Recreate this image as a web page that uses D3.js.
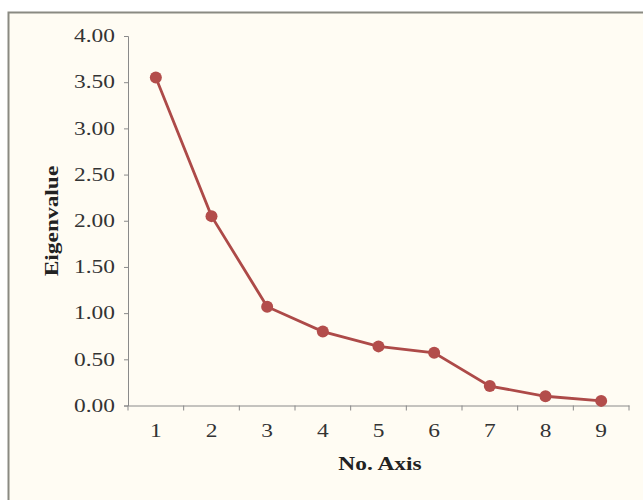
<!DOCTYPE html>
<html><head><meta charset="utf-8">
<script src="https://cdn.jsdelivr.net/npm/d3@7"></script>
<style>body{margin:0;background:#fff;}svg{display:block;}</style>
</head><body>
<svg id="c" width="643" height="500"></svg>
<script>
const categories = ["1","2","3","4","5","6","7","8","9"];
const eigenvalues = [3.55, 2.05, 1.07, 0.80, 0.64, 0.57, 0.21, 0.10, 0.05];
const yTicks = [0, 0.5, 1, 1.5, 2, 2.5, 3, 3.5, 4];

const svg = d3.select("#c");
svg.append("rect").attr("x",8.5).attr("y",12.5).attr("width",640).attr("height",495)
  .attr("fill","#fffcf3").attr("stroke","#8a8a82").attr("stroke-width",2);

const x = d3.scaleBand().domain(categories).range([128, 629]);
const y = d3.scaleLinear().domain([0,4]).range([405.5, 36]);

const font = "'Liberation Serif','Times New Roman',serif";
const STRETCH = 1.3;
function stretch(sel){
  sel.each(function(){
    const w = this.getComputedTextLength();
    d3.select(this).attr("textLength", w*STRETCH).attr("lengthAdjust","spacingAndGlyphs");
  });
}

const yAxis = svg.append("g").attr("transform","translate(128,0)")
  .call(d3.axisLeft(y).tickValues(yTicks).tickFormat(d3.format(".2f")).tickSize(4).tickPadding(9));
const xAxis = svg.append("g").attr("transform","translate(0,405.5)")
  .call(d3.axisBottom(x).tickSize(0).tickPadding(19));
xAxis.selectAll("line.bt").data(d3.range(categories.length+1)).enter().append("line")
  .attr("class","bt")
  .attr("x1",i=>128+i*x.step()).attr("x2",i=>128+i*x.step())
  .attr("y1",0).attr("y2",5).attr("stroke","#8a8a8a");

[yAxis,xAxis].forEach(g=>{
  g.select(".domain").attr("stroke","#8a8a8a");
  g.selectAll(".tick line").attr("stroke","#8a8a8a");
  g.selectAll("text").attr("font-family",font).attr("font-size",18).attr("fill","#333").call(stretch);
});

const line = d3.line().x((d,i)=>x(categories[i])+x.bandwidth()/2).y(d=>y(d));
svg.append("path").datum(eigenvalues).attr("d",line)
  .attr("fill","none").attr("stroke","#ad4a48").attr("stroke-width",2.8);
svg.selectAll("circle.pt").data(eigenvalues).enter().append("circle")
  .attr("class","pt")
  .attr("cx",(d,i)=>x(categories[i])+x.bandwidth()/2).attr("cy",d=>y(d)).attr("r",6)
  .attr("fill","#b34d4b");

svg.append("text").attr("x",380).attr("y",470).attr("text-anchor","middle")
  .attr("font-family",font).attr("font-weight","bold").attr("font-size",18).attr("fill","#222")
  .text("No. Axis").call(stretch);
svg.append("text").attr("transform","translate(58,221) rotate(-90)").attr("text-anchor","middle")
  .attr("font-family",font).attr("font-weight","bold").attr("font-size",18).attr("fill","#222")
  .text("Eigenvalue").call(stretch);
</script>
</body></html>
